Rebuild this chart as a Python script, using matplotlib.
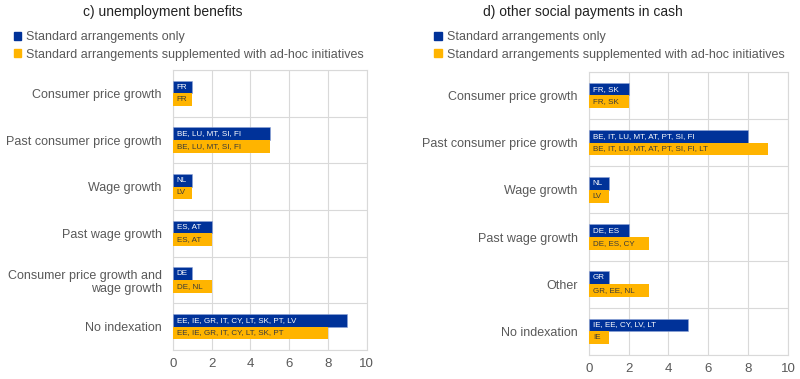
import numpy as np
import matplotlib.pyplot as plt
from matplotlib.patches import Patch

plt.rcParams['font.family'] = ['Liberation Sans', 'DejaVu Sans']

BLUE = '#003299'
YELLOW = '#FFB400'
GREY = '#595959'
GRID = '#d9d9d9'

# Panel c) unemployment benefits
cats_c = ['Consumer price growth', 'Past consumer price growth', 'Wage growth',
          'Past wage growth', 'Consumer price growth and\nwage growth', 'No indexation']
std_c = [1, 5, 1, 2, 1, 9]
adhoc_c = [1, 5, 1, 2, 2, 8]
std_lab_c = ['FR', 'BE, LU, MT, SI, FI', 'NL', 'ES, AT', 'DE',
             'EE, IE, GR, IT, CY, LT, SK, PT, LV']
adhoc_lab_c = ['FR', 'BE, LU, MT, SI, FI', 'LV', 'ES, AT', 'DE, NL',
               'EE, IE, GR, IT, CY, LT, SK, PT']

# Panel d) other social payments in cash
cats_d = ['Consumer price growth', 'Past consumer price growth', 'Wage growth',
          'Past wage growth', 'Other', 'No indexation']
std_d = [2, 8, 1, 2, 1, 5]
adhoc_d = [2, 9, 1, 3, 3, 1]
std_lab_d = ['FR, SK', 'BE, IT, LU, MT, AT, PT, SI, FI', 'NL', 'DE, ES', 'GR',
             'IE, EE, CY, LV, LT']
adhoc_lab_d = ['FR, SK', 'BE, IT, LU, MT, AT, PT, SI, FI, LT', 'LV', 'DE, ES, CY',
               'GR, EE, NL', 'IE']

fig = plt.figure(figsize=(8, 3.79), dpi=100)


def panel(rect, title, title_x, cats, std, adhoc, std_lab, adhoc_lab, leg_x):
    ax = fig.add_axes(rect)
    y = np.arange(len(cats))
    h = 0.27
    ax.barh(y - h / 2, std, h, color=BLUE, edgecolor='#8fa3d6', linewidth=0.4, zorder=3)
    ax.barh(y + h / 2, adhoc, h, color=YELLOW, zorder=3)
    for i in range(len(cats)):
        ax.text(0.2, y[i] - h / 2, std_lab[i], va='center', ha='left',
                fontsize=5.8, color='white', zorder=4)
        ax.text(0.2, y[i] + h / 2, adhoc_lab[i], va='center', ha='left',
                fontsize=5.8, color='#3a3a3a', zorder=4)
    ax.set_xlim(0, 10)
    ax.set_ylim(len(cats) - 0.5, -0.5)
    ax.set_xticks([0, 2, 4, 6, 8, 10])
    ax.set_yticks(y)
    ax.set_yticklabels(cats, fontsize=9, color=GREY)
    ax.set_yticks(np.arange(len(cats) + 1) - 0.5, minor=True)
    ax.tick_params(axis='y', which='both', length=0, pad=8)
    ax.tick_params(axis='x', length=0, labelsize=9.5, labelcolor=GREY, pad=6)
    ax.grid(True, which='major', axis='x', color=GRID, linewidth=0.8, zorder=0)
    ax.grid(True, which='minor', axis='y', color=GRID, linewidth=0.8, zorder=0)
    for s in ax.spines.values():
        s.set_color(GRID)
        s.set_linewidth(0.8)
    fig.text(title_x, 0.968, title, ha='center', va='center', fontsize=10, color='#222222')
    handles = [Patch(color=BLUE, label='Standard arrangements only'),
               Patch(color=YELLOW, label='Standard arrangements supplemented with ad-hoc initiatives')]
    fig.legend(handles=handles, loc='upper left', bbox_to_anchor=(leg_x, 0.918),
               frameon=False, fontsize=9, labelcolor=GREY, handlelength=0.6,
               handleheight=0.6, handletextpad=0.4, labelspacing=0.45,
               borderpad=0, borderaxespad=0)
    return ax


panel([0.216, 0.0765, 0.2425, 0.7388], 'c) unemployment benefits', 0.203,
      cats_c, std_c, adhoc_c, std_lab_c, adhoc_lab_c, 0.017)
panel([0.736, 0.0633, 0.249, 0.747], 'd) other social payments in cash', 0.728,
      cats_d, std_d, adhoc_d, std_lab_d, adhoc_lab_d, 0.543)

fig.savefig('out.png', dpi=100)
